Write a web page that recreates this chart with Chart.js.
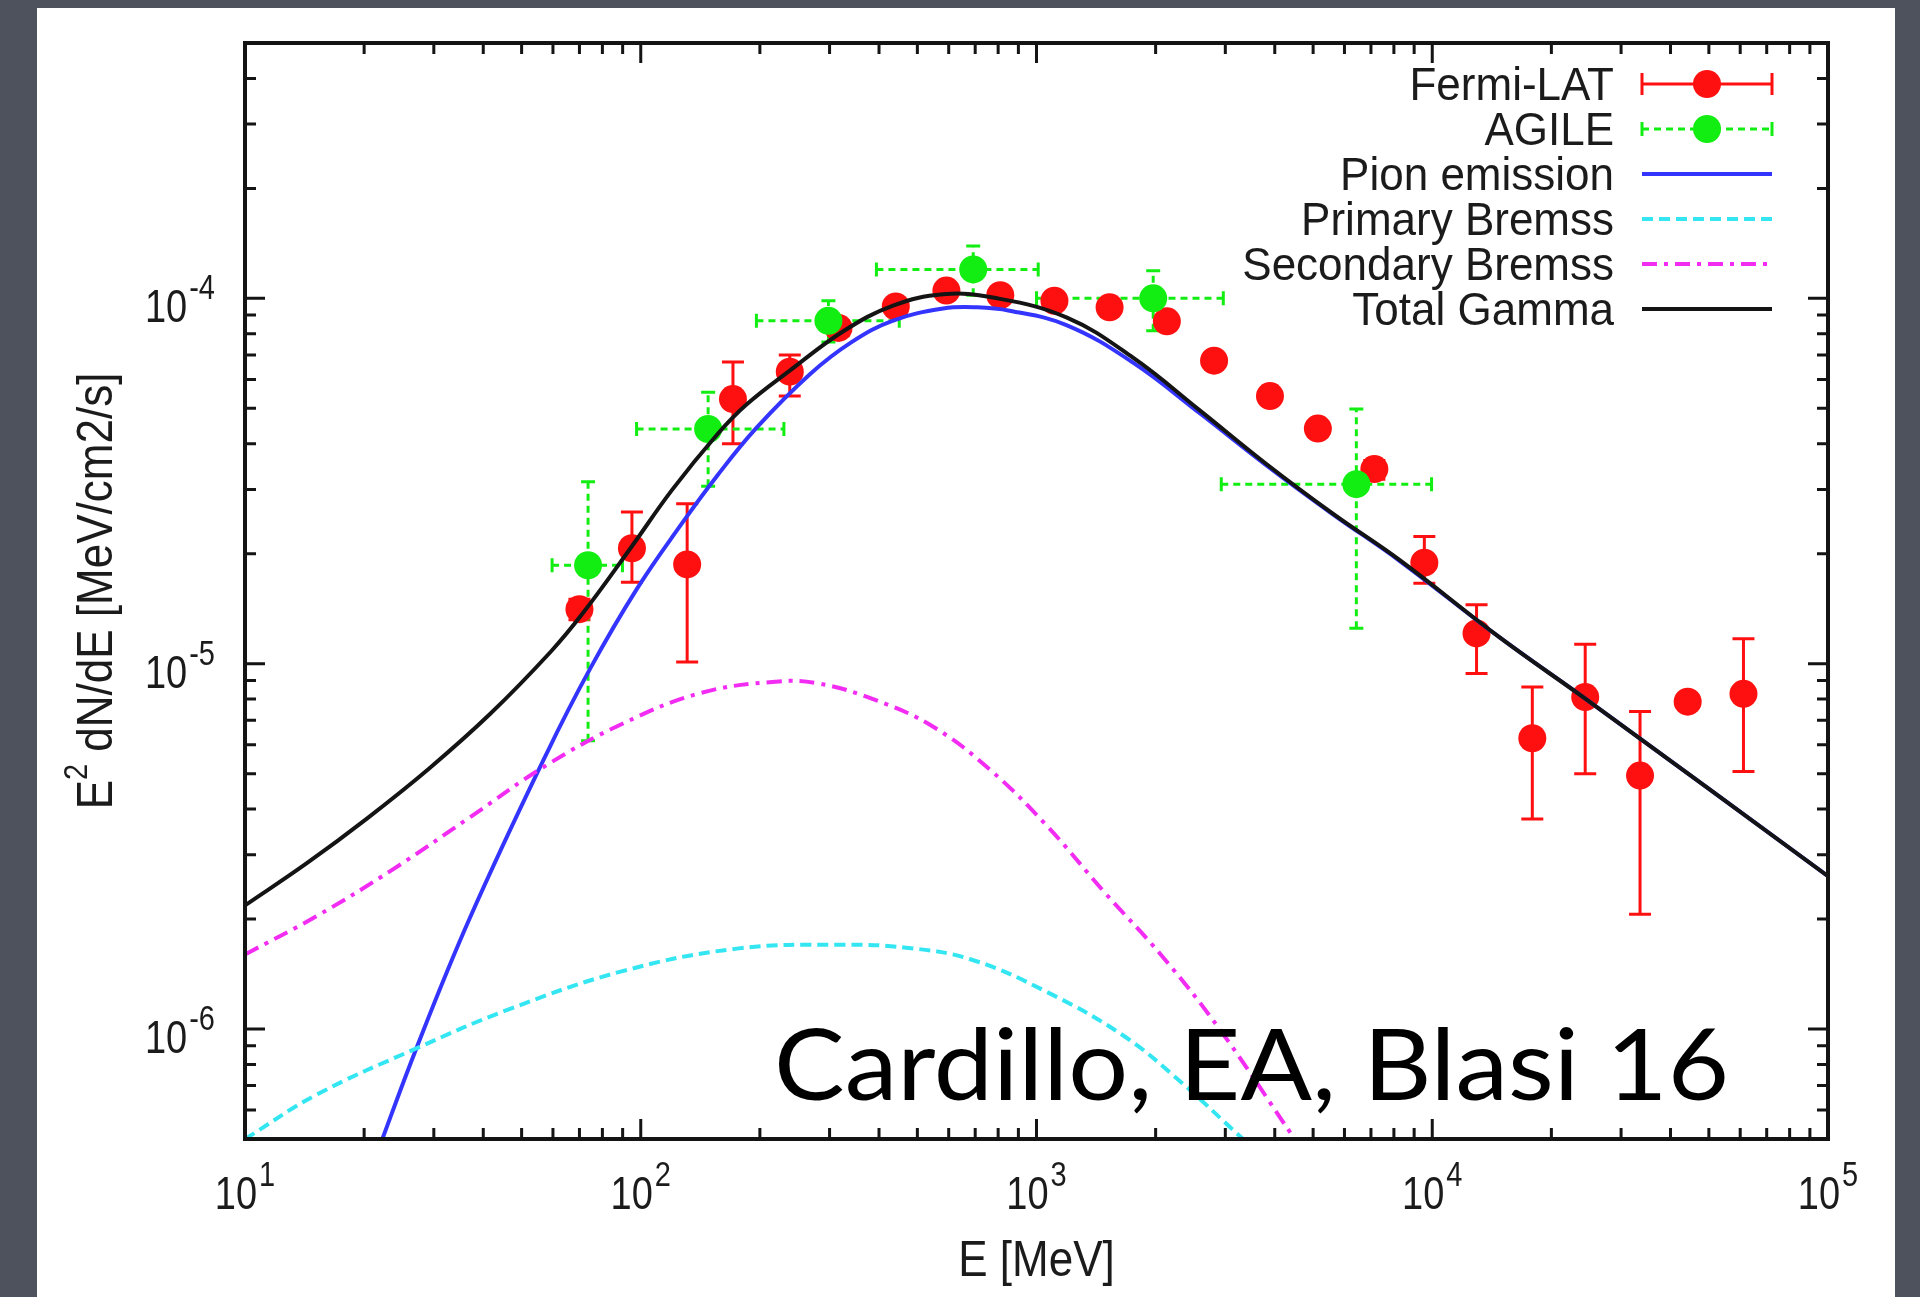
<!DOCTYPE html>
<html>
<head>
<meta charset="utf-8">
<title>E² dN/dE spectrum</title>
<script src="https://cdn.jsdelivr.net/npm/chart.js@4.4.1/dist/chart.umd.min.js"></script>
<style>
    html, body { margin: 0; padding: 0; background: #4e525c; }
    #wrap { position: relative; width: 1920px; height: 1297px; }
</style>
</head>
<body>
<div id="wrap"><canvas id="spectrumChart"></canvas></div>
<script>
/**
 * Gamma-ray spectrum: Fermi-LAT and AGILE points with model components.
 * E in MeV, flux as E^2 dN/dE in MeV/cm2/s.
 */

// Fermi-LAT points and vertical error ranges
const fermiE    = [70, 95, 131, 171, 238, 316, 441, 592, 810, 1110, 1530, 2135, 2810, 3890, 5140, 7140, 9550, 12940, 17900, 24350, 33500, 44200, 61150];
const fermiF    = [1.41e-5, 2.07e-5, 1.87e-5, 5.3e-5, 6.3e-5, 8.3e-5, 9.5e-5, 1.05e-4, 1.02e-4, 9.85e-5, 9.45e-5, 8.65e-5, 6.75e-5, 5.4e-5, 4.4e-5, 3.41e-5, 1.89e-5, 1.21e-5, 6.25e-6, 8.1e-6, 4.94e-6, 7.87e-6, 8.27e-6];
const fermiLow  = [1.32e-5, 1.67e-5, 1.01e-5, 4.0e-5, 5.4e-5, 7.9e-5, 9.1e-5, 1.01e-4, 9.8e-5, 9.5e-5, 9.1e-5, 8.3e-5, 6.5e-5, 5.2e-5, 4.2e-5, 3.2e-5, 1.66e-5, 9.4e-6, 3.76e-6, 5.0e-6, 2.06e-6, 7.87e-6, 5.07e-6];
const fermiHigh = [1.5e-5, 2.6e-5, 2.74e-5, 6.7e-5, 7.0e-5, 8.7e-5, 9.9e-5, 1.09e-4, 1.06e-4, 1.02e-4, 9.8e-5, 9.0e-5, 7.0e-5, 5.6e-5, 4.6e-5, 3.6e-5, 2.23e-5, 1.45e-5, 8.64e-6, 1.13e-5, 7.4e-6, 7.87e-6, 1.17e-5];

// AGILE points with energy bins and flux ranges
const agileE    = [73.6, 148, 298, 692, 1972, 6430];
const agileF    = [1.86e-5, 4.39e-5, 8.68e-5, 1.2e-4, 1.0e-4, 3.1e-5];
const agileEmin = [59.7, 97.6, 196, 394, 1000, 2930];
const agileEmax = [89.9, 230, 450, 1010, 2965, 9960];
const agileFmin = [6.15e-6, 3.06e-5, 7.6e-5, 1.02e-4, 8.15e-5, 1.25e-5];
const agileFmax = [3.15e-5, 5.53e-5, 9.85e-5, 1.39e-4, 1.19e-4, 4.98e-5];

// Model curves
const pionE  = [21.4, 27.1, 36.9, 57.7, 74.8, 97.7, 126, 156, 196, 268, 341, 434, 581, 708, 855, 1190, 1750, 2590, 3810, 5620, 8280, 14800, 24600, 100000];
const pionF  = [4.47e-7, 8.85e-7, 2.0e-6, 5.65e-6, 9.77e-6, 1.6e-5, 2.39e-5, 3.27e-5, 4.42e-5, 6.21e-5, 7.59e-5, 8.69e-5, 9.38e-5, 9.45e-5, 9.25e-5, 8.45e-5, 6.68e-5, 4.84e-5, 3.49e-5, 2.56e-5, 1.91e-5, 1.18e-5, 7.96e-6, 2.62e-6];

const primE  = [10, 15.2, 27.1, 46.2, 89.9, 175, 319, 468, 684, 1067, 1663, 2323, 3251, 3550];
const primF  = [5.0e-7, 6.62e-7, 8.85e-7, 1.13e-6, 1.44e-6, 1.66e-6, 1.7e-6, 1.67e-6, 1.55e-6, 1.26e-6, 9.57e-7, 7.14e-7, 5.11e-7, 4.7e-7];

const secE   = [10, 15.2, 23.7, 36.9, 57.7, 89.9, 141, 219, 281, 391, 547, 764, 1067, 1489, 2080, 2904, 4436, 4680];
const secF   = [1.6e-6, 2.04e-6, 2.74e-6, 3.79e-6, 5.27e-6, 6.85e-6, 8.3e-6, 8.93e-6, 8.83e-6, 7.96e-6, 6.73e-6, 5.12e-6, 3.58e-6, 2.36e-6, 1.58e-6, 9.98e-7, 5.1e-7, 4.7e-7];

const totalE = [10, 14.3, 20.4, 29.1, 41.6, 59.3, 71.6, 94.2, 120, 156, 185, 238, 325, 434, 581, 776, 1190, 1750, 2590, 3810, 5620, 8280, 14800, 24600, 100000];
const totalF = [2.18e-6, 2.84e-6, 3.78e-6, 5.15e-6, 7.28e-6, 1.08e-5, 1.38e-5, 2.07e-5, 2.99e-5, 4.24e-5, 5.12e-5, 6.34e-5, 8.13e-5, 9.55e-5, 1.026e-4, 1.005e-4, 8.87e-5, 6.89e-5, 4.93e-5, 3.52e-5, 2.57e-5, 1.92e-5, 1.18e-5, 7.96e-6, 2.62e-6];

// Axis ranges and labelled decades
const xRange = [10, 1e5];
const yRange = [5e-7, 5e-4];
const xTickValues = [10, 100, 1000, 1e4, 1e5];
const xTickExps   = ['1', '2', '3', '4', '5'];
const yTickValues = [1e-6, 1e-5, 1e-4];
const yTickExps   = ['-6', '-5', '-4'];

const RED = '#ff1010';
const GREEN = '#12ee12';
const BLUE = '#3434ff';
const CYAN = '#33e6f2';
const MAGENTA = '#f22cf2';
const BLACK = '#141414';
const INK = '#1b1b1b';
const SANS = '"Liberation Sans", Arial, Helvetica, sans-serif';

function toPoints(xs, ys) {
    return xs.map((x, i) => ({ x: x, y: ys[i] }));
}

// every 1..9 x 10^n step inside [min, max]
function logSteps(min, max) {
    const out = [];
    for (let d = Math.floor(Math.log10(min)); d <= Math.ceil(Math.log10(max)); d++) {
        for (let m = 1; m <= 9; m++) {
            const v = m * Math.pow(10, d);
            if (v >= min * 0.999 && v <= max * 1.001) out.push({ v: v, major: m === 1 });
        }
    }
    return out;
}

// text with a vertical stretch, alphabetic baseline
function drawText(ctx, text, x, y, size, align, sy) {
    ctx.save();
    ctx.font = size + 'px ' + SANS;
    ctx.fillStyle = INK;
    ctx.textAlign = align;
    ctx.textBaseline = 'alphabetic';
    ctx.translate(x, y);
    ctx.scale(1, sy);
    ctx.fillText(text, 0, 0);
    ctx.restore();
}

// "10" with a raised exponent
function drawPower(ctx, exp, x, y, align) {
    ctx.save();
    ctx.font = '38px ' + SANS;
    const wb = ctx.measureText('10').width;
    ctx.font = '29px ' + SANS;
    const we = ctx.measureText(exp).width;
    const total = wb + 2 + we;
    const left = align === 'right' ? x - total : x - total / 2;
    ctx.translate(0, y);
    ctx.scale(1, 1.22);
    ctx.fillStyle = INK;
    ctx.textAlign = 'left';
    ctx.textBaseline = 'alphabetic';
    ctx.font = '38px ' + SANS;
    ctx.fillText('10', left, 0);
    ctx.font = '29px ' + SANS;
    ctx.fillText(exp, left + wb + 2, -19);
    ctx.restore();
}

/**
 * Slide background and white plot panel
 */
const slideBackground = {
    id: 'slideBackground',
    beforeDraw(chart) {
        const ctx = chart.ctx;
        ctx.save();
        ctx.fillStyle = '#4e525c';
        ctx.fillRect(0, 0, chart.width, chart.height);
        ctx.fillStyle = '#ffffff';
        ctx.fillRect(37, 8, 1858, chart.height - 8);
        ctx.restore();
    }
};

/**
 * Error bars for both instruments, drawn under the markers
 */
const errorBars = {
    id: 'errorBars',
    beforeDatasetsDraw(chart) {
        const { ctx, chartArea: a, scales: { x, y } } = chart;
        ctx.save();
        ctx.beginPath();
        ctx.rect(a.left, a.top, a.right - a.left, a.bottom - a.top);
        ctx.clip();

        ctx.strokeStyle = RED;
        ctx.lineWidth = 3;
        fermiE.forEach((e, i) => {
            if (fermiLow[i] === fermiHigh[i]) return;
            const px = x.getPixelForValue(e);
            const y1 = y.getPixelForValue(fermiLow[i]);
            const y2 = y.getPixelForValue(fermiHigh[i]);
            ctx.beginPath();
            ctx.moveTo(px, y1); ctx.lineTo(px, y2);
            ctx.moveTo(px - 11, y1); ctx.lineTo(px + 11, y1);
            ctx.moveTo(px - 11, y2); ctx.lineTo(px + 11, y2);
            ctx.stroke();
        });

        ctx.strokeStyle = GREEN;
        ctx.setLineDash([7, 5]);
        agileE.forEach((e, i) => {
            const px = x.getPixelForValue(e);
            const py = y.getPixelForValue(agileF[i]);
            const x1 = x.getPixelForValue(agileEmin[i]);
            const x2 = x.getPixelForValue(agileEmax[i]);
            const y1 = y.getPixelForValue(agileFmin[i]);
            const y2 = y.getPixelForValue(agileFmax[i]);
            ctx.beginPath();
            ctx.moveTo(x1, py); ctx.lineTo(x2, py);
            ctx.moveTo(px, y1); ctx.lineTo(px, y2);
            ctx.stroke();
            ctx.save();
            ctx.setLineDash([]);
            ctx.beginPath();
            ctx.moveTo(x1, py - 7); ctx.lineTo(x1, py + 7);
            ctx.moveTo(x2, py - 7); ctx.lineTo(x2, py + 7);
            ctx.moveTo(px - 7, y1); ctx.lineTo(px + 7, y1);
            ctx.moveTo(px - 7, y2); ctx.lineTo(px + 7, y2);
            ctx.stroke();
            ctx.restore();
        });
        ctx.restore();
    }
};

/**
 * Box frame with inward ticks, tick labels and axis titles
 */
const frameAxes = {
    id: 'frameAxes',
    afterDatasetsDraw(chart) {
        const { ctx, chartArea: a, scales: { x, y } } = chart;
        ctx.save();
        ctx.strokeStyle = BLACK;
        ctx.lineWidth = 3;
        ctx.beginPath();
        logSteps(x.min, x.max).forEach(t => {
            const px = x.getPixelForValue(t.v);
            if (px < a.left + 2 || px > a.right - 2) return;
            const len = t.major ? 20 : 11;
            ctx.moveTo(px, a.bottom); ctx.lineTo(px, a.bottom - len);
            ctx.moveTo(px, a.top); ctx.lineTo(px, a.top + len);
        });
        logSteps(y.min, y.max).forEach(t => {
            const py = y.getPixelForValue(t.v);
            if (py < a.top + 2 || py > a.bottom - 2) return;
            const len = t.major ? 20 : 11;
            ctx.moveTo(a.left, py); ctx.lineTo(a.left + len, py);
            ctx.moveTo(a.right, py); ctx.lineTo(a.right - len, py);
        });
        ctx.stroke();
        ctx.lineWidth = 4;
        ctx.strokeRect(a.left, a.top, a.right - a.left, a.bottom - a.top);
        ctx.restore();

        xTickValues.forEach((v, i) => {
            drawPower(ctx, xTickExps[i], x.getPixelForValue(v), a.bottom + 70, 'center');
        });
        yTickValues.forEach((v, i) => {
            drawPower(ctx, yTickExps[i], a.left - 30, y.getPixelForValue(v) + 24, 'right');
        });

        // x title
        drawText(ctx, 'E [MeV]', (a.left + a.right) / 2, a.bottom + 137, 44, 'center', 1.15);

        // y title, rotated, with squared E
        const main = ' dN/dE [MeV/cm2/s]';
        ctx.save();
        ctx.font = '44px ' + SANS;
        const wE = ctx.measureText('E').width;
        const wMain = ctx.measureText(main).width;
        ctx.font = '29px ' + SANS;
        const w2 = ctx.measureText('2').width;
        const total = wE + w2 + wMain;
        ctx.translate(112, (a.top + a.bottom) / 2);
        ctx.rotate(-Math.PI / 2);
        ctx.scale(1, 1.15);
        ctx.fillStyle = INK;
        ctx.textAlign = 'left';
        ctx.textBaseline = 'alphabetic';
        let cx = -total / 2;
        ctx.font = '44px ' + SANS;
        ctx.fillText('E', cx, 0);
        ctx.font = '29px ' + SANS;
        ctx.fillText('2', cx + wE, -22);
        ctx.font = '44px ' + SANS;
        ctx.fillText(main, cx + wE + w2, 0);
        ctx.restore();
    }
};

/**
 * Key in the top right corner, text left of each sample
 */
const keyBox = {
    id: 'keyBox',
    afterDraw(chart) {
        const ctx = chart.ctx;
        const textRight = 1614, x1 = 1642, x2 = 1772, xm = 1707;
        chart.data.datasets.forEach((ds, i) => {
            const rowY = 84 + 45 * i;
            drawText(ctx, ds.label, textRight, rowY + 16, 44, 'right', 1.05);
            ctx.save();
            if (ds.showLine) {
                ctx.strokeStyle = ds.borderColor;
                ctx.lineWidth = ds.borderWidth;
                ctx.setLineDash(ds.borderDash || []);
                ctx.beginPath();
                ctx.moveTo(x1, rowY); ctx.lineTo(x2, rowY);
                ctx.stroke();
            } else {
                const dashed = ds.label === 'AGILE';
                const cap = dashed ? 7 : 11;
                ctx.strokeStyle = ds.pointBackgroundColor;
                ctx.lineWidth = 3;
                ctx.setLineDash(dashed ? [7, 5] : []);
                ctx.beginPath();
                ctx.moveTo(x1, rowY); ctx.lineTo(x2, rowY);
                ctx.stroke();
                ctx.setLineDash([]);
                ctx.beginPath();
                ctx.moveTo(x1, rowY - cap); ctx.lineTo(x1, rowY + cap);
                ctx.moveTo(x2, rowY - cap); ctx.lineTo(x2, rowY + cap);
                ctx.stroke();
                ctx.fillStyle = ds.pointBackgroundColor;
                ctx.beginPath();
                ctx.arc(xm, rowY, ds.pointRadius, 0, Math.PI * 2);
                ctx.fill();
            }
            ctx.restore();
        });
    }
};

/**
 * Reference note written over the plot
 */
const citation = {
    id: 'citation',
    afterDraw(chart) {
        const ctx = chart.ctx;
        const text = 'Cardillo, EA, Blasi 16';
        ctx.save();
        ctx.font = '98px "Comic Sans MS", Lato, sans-serif';
        const w = ctx.measureText(text).width;
        ctx.translate(774, 1100);
        ctx.scale(955 / w, 1);
        ctx.fillStyle = '#000000';
        ctx.textAlign = 'left';
        ctx.textBaseline = 'alphabetic';
        ctx.fillText(text, 0, 0);
        ctx.restore();
    }
};

function initializeSpectrumChart() {
    const ctx = document.getElementById('spectrumChart');
    if (!ctx) return;

    const curve = {
        showLine: true,
        pointRadius: 0,
        borderWidth: 4,
        tension: 0.4,
        clip: 0
    };

    new Chart(ctx.getContext('2d'), {
        type: 'scatter',
        data: {
            datasets: [
                {
                    label: 'Fermi-LAT',
                    data: toPoints(fermiE, fermiF),
                    showLine: false,
                    pointRadius: 14,
                    pointBackgroundColor: RED,
                    pointBorderWidth: 0,
                    order: 5
                },
                {
                    label: 'AGILE',
                    data: toPoints(agileE, agileF),
                    showLine: false,
                    pointRadius: 14,
                    pointBackgroundColor: GREEN,
                    pointBorderWidth: 0,
                    order: 4
                },
                Object.assign({}, curve, {
                    label: 'Pion emission',
                    data: toPoints(pionE, pionF),
                    borderColor: BLUE,
                    order: 3
                }),
                Object.assign({}, curve, {
                    label: 'Primary Bremss',
                    data: toPoints(primE, primF),
                    borderColor: CYAN,
                    borderDash: [11, 6],
                    order: 2
                }),
                Object.assign({}, curve, {
                    label: 'Secondary Bremss',
                    data: toPoints(secE, secF),
                    borderColor: MAGENTA,
                    borderDash: [15, 7, 4, 7],
                    order: 1
                }),
                Object.assign({}, curve, {
                    label: 'Total Gamma',
                    data: toPoints(totalE, totalF),
                    borderColor: BLACK,
                    order: 0
                })
            ]
        },
        options: {
            responsive: true,
            maintainAspectRatio: false,
            animation: false,
            events: [],
            layout: {
                padding: { left: 245, right: 92, top: 43, bottom: 158 }
            },
            plugins: {
                legend: { display: false },
                tooltip: { enabled: false }
            },
            scales: {
                x: {
                    type: 'logarithmic',
                    min: xRange[0],
                    max: xRange[1],
                    display: false
                },
                y: {
                    type: 'logarithmic',
                    min: yRange[0],
                    max: yRange[1],
                    display: false
                }
            }
        },
        plugins: [slideBackground, errorBars, frameAxes, keyBox, citation]
    });
}

document.addEventListener('DOMContentLoaded', initializeSpectrumChart);
</script>
</body>
</html>
